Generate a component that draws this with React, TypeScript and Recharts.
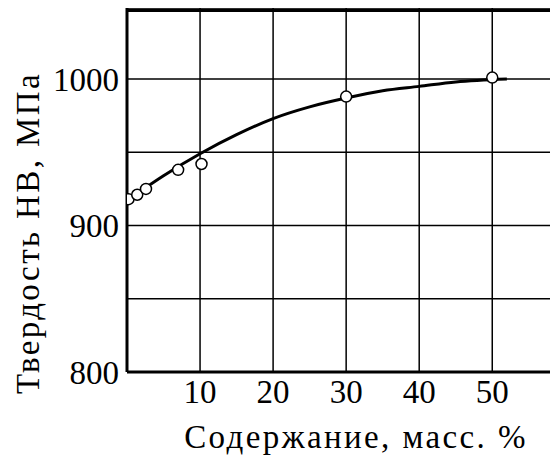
import { ComposedChart, Line, Scatter, XAxis, YAxis, CartesianGrid, ReferenceLine, Label } from 'recharts';

// measured points
const measuredContent = [0.2, 1.4, 2.6, 7, 10.2, 30, 50];
const measuredHardness = [918, 921, 925, 938, 942, 988, 1001];

// fitted curve
const curveContent = [0, 5, 10, 15, 20, 25, 30, 35, 40, 45, 52];
const curveHardness = [917, 934, 949, 962, 973, 981, 987, 992, 995, 998, 1000];

const xTicks = [10, 20, 30, 40, 50];
const yTicks = [800, 850, 900, 950, 1000];
const yLabels = [800, 900, 1000];
const yMax = 1048.5;
const frameTop = 1047;

const font = "'Liberation Serif', 'Times New Roman', Times, serif";

const points = measuredContent.map((x, i) => ({ x, y: measuredHardness[i] }));
const curve = curveContent.map((x, i) => ({ x, y: curveHardness[i] }));

const OpenDot = (p: any) => (
  <circle cx={p.cx} cy={p.cy} r={5.5} fill="#fff" stroke="#000" strokeWidth={1.5} />
);

const tickStyle = { fill: '#000', fontSize: 33, fontFamily: font };

export default function App() {
  return (
    <div style={{ position: 'relative', width: 550, height: 447 }}>
      <ComposedChart width={550} height={447} margin={{ top: 0, right: 0, left: 0, bottom: 0 }}>
        <CartesianGrid stroke="#000" strokeWidth={1.5} strokeDasharray="" />
        <XAxis
          type="number"
          dataKey="x"
          domain={[0, 59]}
          ticks={xTicks}
          allowDataOverflow
          height={83}
          tickLine={false}
          tickMargin={2}
          axisLine={{ stroke: '#000', strokeWidth: 3 }}
          tick={tickStyle}
        >
          <Label
            content={() => (
              <text x={348} y={429} textAnchor="middle" dominantBaseline="central" fill="#000" fontSize={33} fontFamily={font} letterSpacing={2.4}>
                Содержание, масс. %
              </text>
            )}
          />
        </XAxis>
        <YAxis
          type="number"
          dataKey="y"
          domain={[800, yMax]}
          ticks={yTicks}
          allowDataOverflow
          width={119}
          tickLine={false}
          tickFormatter={(v: number) => (yLabels.includes(v) ? String(v) : '')}
          axisLine={{ stroke: '#000', strokeWidth: 3 }}
          tick={tickStyle}
        >
          <Label
            content={() => (
              <text x={20} y={225} transform="rotate(-90 20 225)" textAnchor="middle" dominantBaseline="central" fill="#000" fontSize={33} fontFamily={font} letterSpacing={2.4}>
                Твердость НВ, МПа
              </text>
            )}
          />
        </YAxis>
        {/* top frame of the plot box */}
        <ReferenceLine y={frameTop} stroke="#000" strokeWidth={3} ifOverflow="visible" />
        <Line data={curve} dataKey="y" type="monotone" stroke="#000" strokeWidth={3} dot={false} isAnimationActive={false} />
        <Scatter data={points} dataKey="y" shape={OpenDot} isAnimationActive={false} />
      </ComposedChart>
      <div style={{ position: 'absolute', top: 0.7, left: 117.5, right: 0, height: 3, background: '#000' }} />
    </div>
  );
}
